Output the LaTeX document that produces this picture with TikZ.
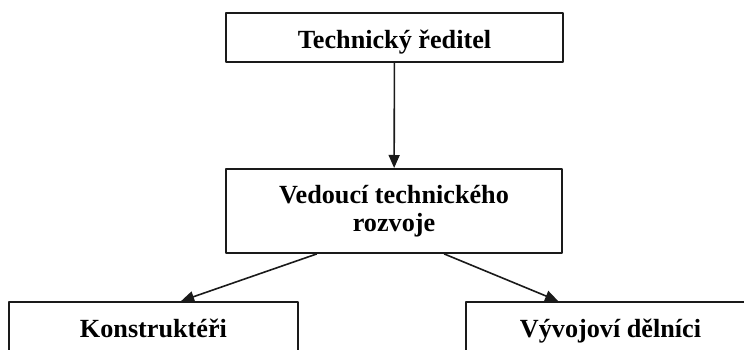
\documentclass[tikz,border=0pt]{standalone}
\usepackage{fontspec}
\setmainfont{Liberation Serif}
\usetikzlibrary{arrows.meta,calc}
\definecolor{cline}{HTML}{1a1a1a}

\begin{document}
\begin{tikzpicture}[x=1pt, y=-1pt, line cap=round, line join=round,
    font=\fontsize{26.2}{27.4}\selectfont\bfseries,
    box/.style={draw=cline, line width=2pt, inner sep=0pt, align=center},
    arr/.style={cline, line width=1.6pt, -{Triangle[length=13pt, width=11pt]}}]
  \useasboundingbox (0,0) rectangle (744,350);
  \clip (0,0) rectangle (744,350);
  % ---------- boxes ----------
  \node[box, minimum width=337pt, text height=35.3pt, text depth=13.7pt] (reditel) at (394.5,37.5) {Technický ředitel};
  \node[box, minimum width=336pt, minimum height=84pt] (vedouci) at (394,211) {Vedoucí technického\\rozvoje};
  \node[box, minimum width=289pt, text height=35pt, text depth=19pt] (konstr) at (153.5,329) {Konstruktéři};
  \node[box, minimum width=289pt, text height=35pt, text depth=19pt] (delnici) at (610.5,329) {Vývojoví dělníci};
  % ---------- arrows ----------
  \draw[arr] (reditel) -- (vedouci);
  \draw[arr] ($(vedouci.south west)!0.271!(vedouci.south east)$) -- ($(konstr.north west)!0.595!(konstr.north east)$);
  \draw[arr] ($(vedouci.south west)!0.649!(vedouci.south east)$) -- ($(delnici.north west)!0.32!(delnici.north east)$);
\end{tikzpicture}
\end{document}
